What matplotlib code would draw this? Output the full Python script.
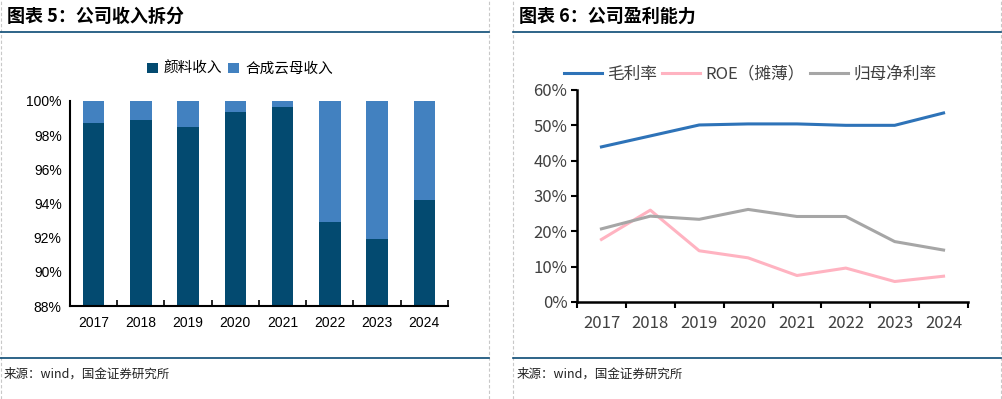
import matplotlib
matplotlib.use("Agg")
import matplotlib.pyplot as plt
from matplotlib.ticker import FuncFormatter, FixedLocator

plt.rcParams['font.family'] = ['Noto Sans CJK SC', 'DejaVu Sans']

# ---- data ----
years = ["2017", "2018", "2019", "2020", "2021", "2022", "2023", "2024"]
pigment_share = [98.71, 98.89, 98.48, 99.35, 99.65, 92.91, 91.91, 94.20]   # 颜料收入 (%)
mica_share = [100 - v for v in pigment_share]                              # 合成云母收入 (%)

gross_margin = [43.9, 47.0, 50.1, 50.4, 50.4, 50.0, 50.0, 53.5]   # 毛利率
roe_diluted = [17.7, 26.0, 14.5, 12.5, 7.5, 9.6, 5.8, 7.3]         # ROE（摊薄）
net_margin = [20.7, 24.3, 23.4, 26.2, 24.2, 24.2, 17.1, 14.7]      # 归母净利率

W, H = 1003, 399
fig = plt.figure(figsize=(W / 100, H / 100), dpi=100)

def px_axes(x0, y_top, x1, y_bot):
    return fig.add_axes([x0 / W, 1 - y_bot / H, (x1 - x0) / W, (y_bot - y_top) / H])

# ---- frame: dashed separators, blue rules, titles, sources ----
frame = fig.add_axes([0, 0, 1, 1], zorder=-1)
frame.set_xlim(0, W)
frame.set_ylim(H, 0)
frame.axis("off")
for xv in [1, 489, 513, 1001]:
    frame.axvline(xv, color="#c8c8c8", lw=0.8, ls=(0, (3, 2)))
rule = "#0b4a74"
for yv in [32, 358]:
    frame.plot([0, 489], [yv, yv], color=rule, lw=1.2)
    frame.plot([513, 1001], [yv, yv], color=rule, lw=1.2)
frame.text(7, 16, "图表 5：公司收入拆分", fontsize=13, fontweight="bold",
           va="center", ha="left", color="black")
frame.text(519, 16, "图表 6：公司盈利能力", fontsize=13, fontweight="bold",
           va="center", ha="left", color="black")
frame.text(4, 374, "来源：wind，国金证券研究所", fontsize=9, va="center",
           ha="left", color="#222222")
frame.text(517, 374, "来源：wind，国金证券研究所", fontsize=9, va="center",
           ha="left", color="#222222")

# ---- left: stacked bars ----
ax1 = px_axes(70, 101, 448, 306)
xs = list(range(len(years)))
dark = "#034a70"
light = "#4281c0"
ax1.bar(xs, pigment_share, width=0.45, color=dark, label="颜料收入")
ax1.bar(xs, mica_share, bottom=pigment_share, width=0.45, color=light, label="合成云母收入")
ax1.set_ylim(88, 100)
ax1.set_xlim(-0.5, len(years) - 0.5)
ax1.set_yticks(range(88, 101, 2))
ax1.yaxis.set_major_formatter(FuncFormatter(lambda v, p: f"{v:.0f}%"))
ax1.set_xticks(xs)
ax1.set_xticklabels(years)
ax1.xaxis.set_minor_locator(FixedLocator([i - 0.5 for i in range(len(years) + 1)]))
ax1.tick_params(axis="x", which="major", length=0, pad=7)
ax1.tick_params(axis="x", which="minor", length=4, width=1.2, direction="in")
ax1.tick_params(axis="y", length=0, pad=6)
for lab in ax1.get_xticklabels() + ax1.get_yticklabels():
    lab.set_fontfamily("Liberation Sans")
    lab.set_fontsize(10)
for s in ["top", "right"]:
    ax1.spines[s].set_visible(False)
for s in ["left", "bottom"]:
    ax1.spines[s].set_linewidth(1.5)
ax1.legend(loc="center", bbox_to_anchor=(240 / W, 1 - 69 / H), bbox_transform=fig.transFigure,
           ncol=2, frameon=False, fontsize=10.5, handlelength=0.75, handleheight=0.75,
           handletextpad=0.4, columnspacing=0.4)

# ---- right: lines ----
ax2 = px_axes(577, 90, 968, 302)
c_gm, c_roe, c_nm = "#2e73b8", "#ffb3c1", "#a6a6a6"
ax2.plot(xs, gross_margin, color=c_gm, lw=2.2, label="毛利率")
ax2.plot(xs, roe_diluted, color=c_roe, lw=2.2, label="ROE（摊薄）")
ax2.plot(xs, net_margin, color=c_nm, lw=2.2, label="归母净利率")
ax2.set_ylim(0, 60)
ax2.set_xlim(-0.5, len(years) - 0.5)
ax2.set_yticks(range(0, 61, 10))
ax2.yaxis.set_major_formatter(FuncFormatter(lambda v, p: f"{v:.0f}%"))
ax2.set_xticks(xs)
ax2.set_xticklabels(years)
ax2.xaxis.set_minor_locator(FixedLocator([i - 0.5 for i in range(len(years) + 1)]))
ax2.tick_params(axis="x", which="major", length=0, pad=9)
ax2.tick_params(axis="x", which="minor", length=4.5, width=1.5, direction="out")
ax2.tick_params(axis="y", length=4, width=1.5, direction="out", pad=3)
for lab in ax2.get_xticklabels() + ax2.get_yticklabels():
    lab.set_fontsize(12)
    lab.set_color("#404040")
for s in ["top", "right"]:
    ax2.spines[s].set_visible(False)
for s in ["left", "bottom"]:
    ax2.spines[s].set_linewidth(1.8)
leg = ax2.legend(loc="center", bbox_to_anchor=(750 / W, 1 - 74 / H), bbox_transform=fig.transFigure,
                 ncol=3, frameon=False, fontsize=12, handlelength=2.3,
                 handletextpad=0.3, columnspacing=0.3)
for t in leg.get_texts():
    t.set_color("#404040")

fig.savefig("out.png", dpi=100)
